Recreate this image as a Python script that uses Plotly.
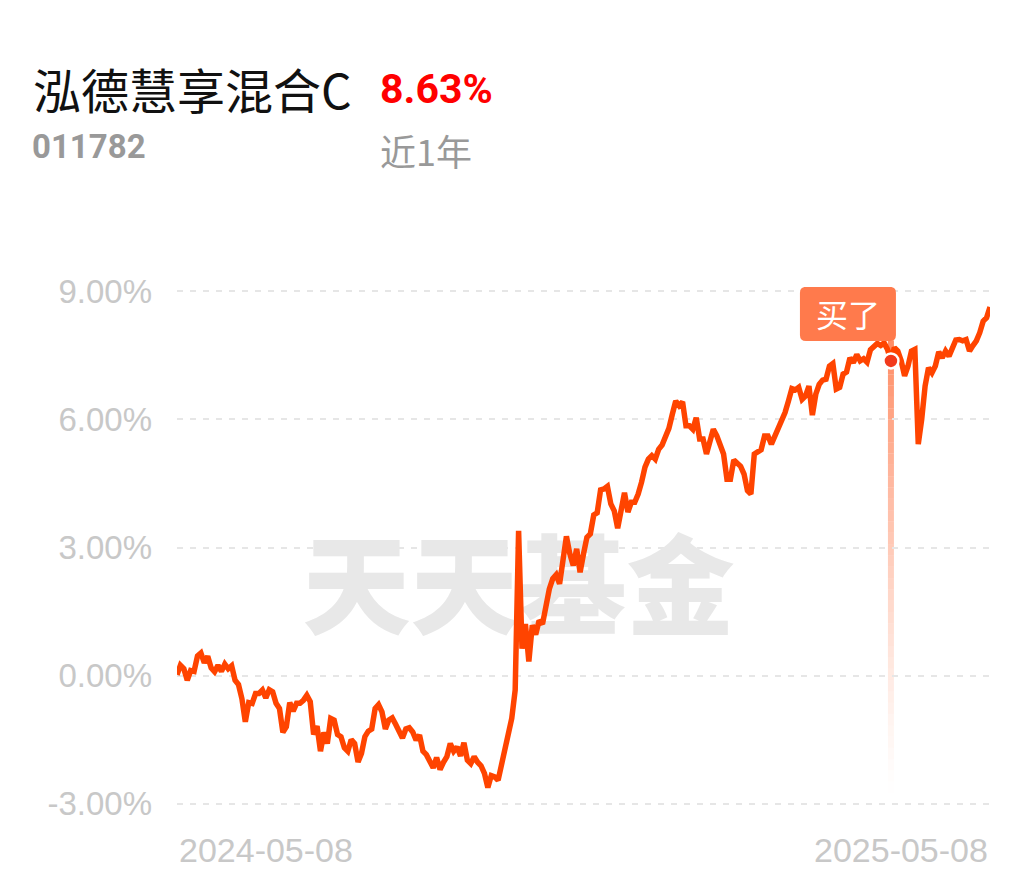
import plotly.graph_objects as go

# ---------------- data ----------------
fund_name = "泓德慧享混合C"
fund_code = "011782"
period_return = "8.63%"
period_label = "近1年"
date_labels = ["2024-05-08", "2025-05-08"]
y_ticks = [-3, 0, 3, 6, 9]
y_tick_text = ["-3.00%", "0.00%", "3.00%", "6.00%", "9.00%"]
watermark = "天天基金"
buy_label = "买了"

returns_part1 = [
    0.02, 0.24, 0.16, -0.11, 0.12, 0.10, 0.46, 0.53, 0.30, 0.45,
    0.18, 0.09, 0.24, 0.10, 0.27, 0.16, 0.23, -0.11, -0.21, -0.54,
    -1.08, -0.63, -0.65, -0.42, -0.42, -0.34, -0.52, -0.33, -0.38, -0.65,
    -0.77, -1.33, -1.20, -0.63, -0.83, -0.65, -0.65, -0.58, -0.46, -0.61,
    -1.38, -1.18, -1.77, -1.33, -1.59, -1.00, -1.04, -1.38, -1.43, -1.69,
    -1.77, -1.50, -1.59, -2.02,
]
returns_part2 = [
    -1.82, -1.43, -1.30, -1.25, -0.77, -0.68, -0.85, -1.25, -1.04, -0.99,
    -1.14, -1.28, -1.46, -1.25, -1.22, -1.32, -1.51, -1.39, -1.77, -1.85,
    -1.98, -2.16, -1.92, -2.20, -2.03, -1.90, -1.59, -1.77, -1.67, -1.88,
    -1.57, -1.98, -2.06, -1.90, -2.03, -2.11, -2.29, -2.62, -2.34, -2.37,
    -2.45, -2.10, -1.82, -1.47, -1.00, -0.34, 3.39,
]
returns_part3 = [
    0.63, 1.21, 0.33, 1.18, 0.96, 1.29, 1.21, 1.72, 2.03, 2.27,
    2.36, 2.15, 2.77, 3.26, 2.85, 2.58, 2.97, 2.42, 2.85, 3.24,
    3.32, 3.76, 3.81, 4.35, 4.37, 4.43, 4.02, 3.86, 3.45, 3.86,
    4.28, 3.83, 4.06, 4.06, 4.25, 4.53, 4.88, 5.07, 5.15, 5.07,
    5.30, 5.40, 5.58, 5.79, 6.12, 6.43, 6.32, 6.41, 5.85, 5.85,
    5.77, 6.04, 5.54, 5.54, 5.19, 5.50, 5.77, 5.62, 5.42, 5.19,
    4.60, 4.60, 5.05, 4.98, 4.90, 4.72, 4.33, 4.25, 5.19, 5.24,
    5.29, 5.61, 5.61, 5.42, 5.60, 5.81, 5.93, 6.16, 6.43, 6.72,
    6.69, 6.75, 6.47, 6.55, 6.78, 6.10, 6.59, 6.82, 6.92, 6.94,
    7.25, 7.31, 6.71, 6.75, 7.06, 7.11, 7.44, 7.33, 7.52, 7.37,
    7.42, 7.34, 7.63, 7.72, 7.78, 7.73, 7.79, 7.64, 7.37,
]
returns_part4 = [
    7.68, 7.60, 7.37, 7.02, 7.25, 7.60, 7.64, 5.42, 6.00, 6.78,
    7.21, 7.09, 7.25, 7.58, 7.44, 7.60, 7.48, 7.64, 7.86, 7.87,
    7.84, 7.87, 7.60, 7.73, 7.84, 8.03, 8.30, 8.38, 8.63,
]
returns = returns_part1 + returns_part2 + returns_part3 + returns_part4
days = list(range(len(returns)))
buy_index = len(returns_part1) + len(returns_part2) + len(returns_part3) - 1

# ---------------- layout geometry ----------------
OFF = 8  # default page body margin
W, H = 1035 - 2 * OFF, 881 - 2 * OFF
M_L, M_T = 177 - OFF, 287 - OFF
M_R = W - (990 - OFF)
M_B = H - (808 - OFF)
Y_RANGE = [-3.1, 9.1]
plot_w = W - M_L - M_R
plot_h = H - M_T - M_B


def px_x(px):
    return (px - OFF - M_L) / plot_w


def px_y(py):
    return (H - M_B - (py - OFF)) / plot_h


LINE = "#ff4400"
GRID = "#e6e6e6"
TICK = "#c8c8c8"
CORAL = "#ff7a4c"

fig = go.Figure()

# watermark (drawn under the line)
n = len(returns)
fig.add_trace(go.Scatter(
    x=[(n - 1) * 0.42], y=[1.8], mode="text", text=[watermark],
    textfont=dict(size=108, color="#e8e8e8", family="Noto Sans CJK SC", weight=900),
    hoverinfo="skip", showlegend=False,
))

# fading vertical line below the buy marker
buy_val = returns[buy_index]
top_v = buy_val + 0.48
bot_v = -2.75
steps = 40
for i in range(steps):
    y0 = top_v - (top_v - bot_v) * i / steps
    y1 = top_v - (top_v - bot_v) * (i + 1) / steps
    frac = i / steps
    op = max(0.0, 0.85 * (1 - frac) ** 1.3)
    fig.add_shape(type="line", xref="x", yref="y", x0=buy_index, x1=buy_index,
                  y0=y0, y1=y1, line=dict(color=f"rgba(255,122,76,{op:.3f})", width=6),
                  layer="below")

fig.add_trace(go.Scatter(
    x=days, y=returns, mode="lines",
    line=dict(color=LINE, width=5.5, shape="linear"),
    hoverinfo="skip", showlegend=False,
))

fig.add_trace(go.Scatter(
    x=[buy_index], y=[buy_val], mode="markers",
    marker=dict(size=15, color="#f23a1c", line=dict(color="white", width=2.5)),
    hoverinfo="skip", showlegend=False,
))

# rounded tag box anchored to the buy point (pixel offsets)
bx0, bx1, by0, by1, r = -91, 5, 20, 74, 6
tag_path = (
    f"M {bx0 + r},{by0} L {bx1 - r},{by0} Q {bx1},{by0} {bx1},{by0 + r} "
    f"L {bx1},{by1 - r} Q {bx1},{by1} {bx1 - r},{by1} "
    f"L {bx0 + r},{by1} Q {bx0},{by1} {bx0},{by1 - r} "
    f"L {bx0},{by0 + r} Q {bx0},{by0} {bx0 + r},{by0} Z"
)
fig.add_shape(type="path", xref="x", yref="y", xsizemode="pixel", ysizemode="pixel",
              xanchor=buy_index, yanchor=buy_val, path=tag_path,
              fillcolor=CORAL, line=dict(width=0), layer="above")

annotations = []
annotations.append(dict(
    x=buy_index, y=buy_val, xref="x", yref="y", xanchor="center", yanchor="middle",
    xshift=(bx0 + bx1) / 2, yshift=(by0 + by1) / 2 + 1, text=buy_label, showarrow=False,
    font=dict(size=32, color="white", family="Noto Sans CJK SC"),
))
# header texts
annotations.append(dict(x=px_x(31), y=px_y(88), xref="paper", yref="paper",
                        xanchor="left", yanchor="middle", text=fund_name, showarrow=False,
                        font=dict(size=48, color="#111111", family="Noto Sans CJK SC")))
annotations.append(dict(x=px_x(378), y=px_y(89), xref="paper", yref="paper",
                        xanchor="left", yanchor="middle", text=f"<b>{period_return}</b>",
                        showarrow=False,
                        font=dict(size=41, color="#ff0000", family="Roboto")))
annotations.append(dict(x=px_x(30), y=px_y(146), xref="paper", yref="paper",
                        xanchor="left", yanchor="middle", text=f"<b>{fund_code}</b>",
                        showarrow=False,
                        font=dict(size=33, color="#999999", family="Roboto")))
annotations.append(dict(x=px_x(378), y=px_y(150), xref="paper", yref="paper",
                        xanchor="left", yanchor="middle", text=period_label,
                        showarrow=False,
                        font=dict(size=36, color="#999999", family="Noto Sans CJK SC")))
# x-axis end labels
annotations.append(dict(x=0, y=px_y(850), xref="paper", yref="paper",
                        xanchor="left", yanchor="middle", text=date_labels[0], showarrow=False,
                        font=dict(size=34, color=TICK, family="Liberation Sans")))
annotations.append(dict(x=1, y=px_y(850), xref="paper", yref="paper",
                        xanchor="right", yanchor="middle", text=date_labels[1], showarrow=False,
                        font=dict(size=34, color=TICK, family="Liberation Sans")))

fig.update_layout(
    width=W, height=H,
    margin=dict(l=M_L, r=M_R, t=M_T, b=M_B, pad=0),
    paper_bgcolor="white", plot_bgcolor="white",
    showlegend=False,
    annotations=annotations,
    xaxis=dict(range=[0, n - 1], showgrid=False, zeroline=False, showticklabels=False,
               showline=False, fixedrange=True),
    yaxis=dict(range=Y_RANGE, tickvals=y_ticks, ticktext=y_tick_text,
               showgrid=True, gridcolor=GRID, gridwidth=2, griddash="6px,7px",
               zeroline=False, showline=False, ticks="", ticklabelstandoff=24,
               tickfont=dict(size=33, color=TICK, family="Liberation Sans"),
               fixedrange=True),
)

fig.write_html("out.html")
